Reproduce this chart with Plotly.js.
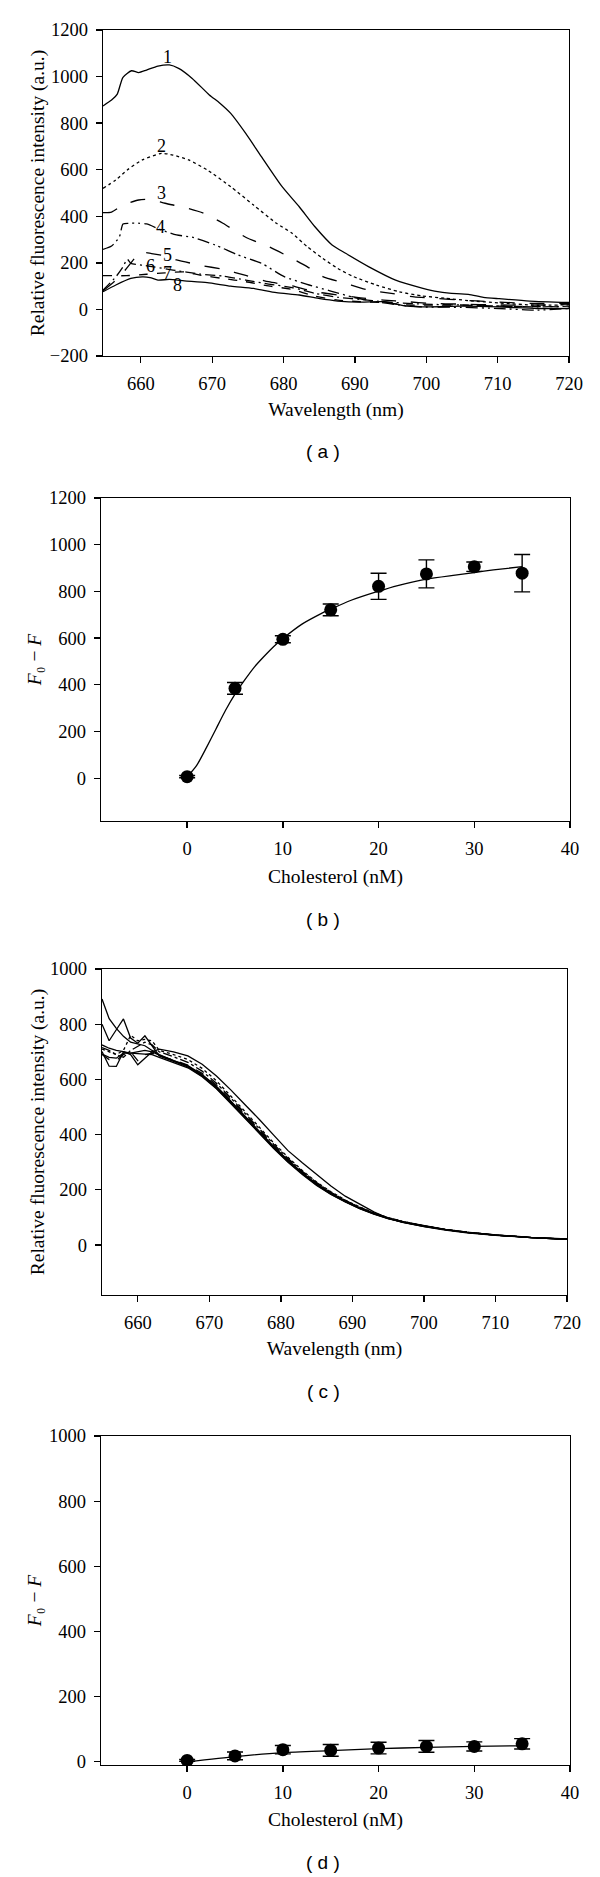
<!DOCTYPE html>
<html>
<head>
<meta charset="utf-8">
<script src="https://cdn.plot.ly/plotly-3.0.1.min.js"></script>
<style>
  html, body { margin: 0; padding: 0; background: #fff; }
  #chart { width: 600px; height: 1877px; }
</style>
</head>
<body>
<div id="chart"></div>
<script>
// ---------------- Panel (a): emission spectra, 8 curves ----------------
const a1x = [654.7, 655.9, 656.7, 657.5, 658.7, 659.7, 660.8, 662.4, 664.0, 665.3, 667.2, 669.6, 671.0, 672.6, 674.7, 676.9, 679.8, 682.2, 684.4, 686.8, 688.7, 691.9, 695.7, 699.4, 701.6, 703.2, 705.9, 708.0, 710.2, 714.5, 720];
const a1y = [874, 899, 925, 997, 1025, 1017, 1028, 1045, 1050, 1035, 992, 921, 888, 842, 756, 656, 527, 441, 355, 277, 241, 184, 126, 92, 76, 70, 65, 52, 46, 36, 30];

const a2x = [654.7, 656.5, 658.1, 660.2, 662.9, 664.5, 666.7, 669.3, 672.6, 675.8, 679.0, 681.2, 683.3, 685.5, 687.6, 689.8, 693.0, 696.2, 699.4, 702.6, 705.9, 710.2, 715.5, 720];
const a2y = [520, 556, 599, 642, 670, 663, 642, 599, 527, 448, 370, 327, 270, 219, 176, 141, 105, 76, 58, 48, 38, 28, 18, 20];

const a3x = [654.7, 655.9, 657.5, 659.7, 661.3, 663.4, 666.1, 668.8, 671.5, 674.7, 677.9, 681.2, 683.3, 685.5, 688.7, 691.9, 695.1, 698.3, 701.6, 704.8, 709.1, 714.5, 720];
const a3y = [416, 418, 448, 470, 473, 456, 438, 413, 370, 310, 270, 219, 184, 141, 112, 83, 69, 54, 47, 40, 33, 26, 26];

const a4x = [654.7, 655.9, 657.0, 657.5, 658.3, 659.7, 660.8, 662.9, 665.0, 667.2, 670.4, 673.6, 676.9, 680.1, 683.3, 686.5, 689.8, 693.0, 696.2, 699.4, 704.8, 710.2, 715.5, 720];
const a4y = [258, 272, 312, 367, 370, 370, 367, 341, 320, 310, 277, 234, 198, 141, 108, 80, 52, 33, 19, 11, 9, 4, -3, 4];

const a5x = [654.7, 657.0, 659.0, 659.8, 661.5, 663.0, 665.0, 668.3, 671.5, 674.7, 677.9, 681.2, 684.4, 687.6, 690.8, 694.0, 697.3, 700.5, 704.8, 710.2, 715.5, 720];
const a5y = [80, 140, 215, 245, 240, 232, 213, 190, 172, 146, 119, 101, 76, 62, 50, 40, 33, 26, 23, 19, 19, 23];

const a6x = [654.7, 656.5, 657.5, 658.1, 658.6, 660.2, 661.8, 664.5, 668.3, 671.5, 674.7, 677.9, 681.2, 684.4, 687.6, 690.8, 694.0, 699.4, 704.8, 710.2, 715.5, 720];
const a6y = [83, 140, 183, 215, 198, 190, 183, 169, 152, 143, 126, 109, 94, 69, 52, 43, 33, 23, 19, 14, 11, 14];

const a7x = [654.7, 658.0, 660.8, 663.4, 666.1, 668.3, 671.5, 674.7, 677.9, 681.2, 684.4, 687.6, 690.8, 694.0, 697.3, 704.8, 710.2, 720];
const a7y = [145, 145, 151, 157, 161, 147, 133, 119, 101, 86, 57, 40, 33, 30, 19, 19, 14, 11];

const a8x = [654.7, 656.5, 658.6, 660.2, 661.3, 662.4, 664.0, 666.1, 669.3, 672.6, 675.8, 679.0, 682.2, 684.9, 687.6, 690.8, 694.0, 697.3, 700.5, 704.8, 710.2, 715.5, 720];
const a8y = [76, 105, 133, 140, 137, 126, 129, 123, 115, 100, 90, 72, 62, 47, 36, 31, 33, 14, 11, 14, 11, 4, 4];

const aLabelText = ["1", "2", "3", "4", "5", "6", "7", "8"];
const aLabelX = [663.8, 662.9, 662.9, 662.8, 663.8, 661.4, 663.8, 665.2];
const aLabelY = [1085, 703, 499, 353, 234, 188, 155, 105];

// ---------------- Panel (b): F0 - F vs cholesterol ----------------
const bX = [0, 5, 10, 15, 20, 25, 30, 35];
const bY = [7, 385, 595, 721, 822, 875, 906, 878];
const bErr = [5, 25, 15, 25, 56, 60, 20, 80];
const bFitX = [0, 1, 2, 3, 4, 5, 6, 7, 8, 9, 10, 12, 14, 15, 17, 20, 22, 25, 28, 30, 32, 35];
const bFitY = [5, 55, 130, 210, 290, 360, 420, 475, 520, 562, 598, 660, 705, 724, 760, 801, 825, 853, 870, 881, 892, 906];

// ---------------- Panel (c): spectra (control), 8 curves ----------------
const cX = [655, 656, 657, 658, 659, 660, 661, 662, 663, 665, 667, 669, 671, 673, 675, 677, 679, 681, 683, 685, 687, 689, 691, 693, 695, 697, 700, 703, 706, 710, 715, 720];
const c1 = [725, 713, 705, 701, 690, 653, 677, 700, 710, 700, 685, 655, 612, 562, 508, 455, 398, 342, 298, 255, 214, 177, 147, 120, 97, 82, 67, 54, 44, 35, 27, 21];
const c2 = [891, 820, 785, 756, 735, 728, 722, 705, 690, 668, 650, 618, 575, 522, 466, 410, 357, 308, 262, 222, 188, 160, 135, 115, 98, 85, 70, 57, 47, 37, 28, 22];
const c3 = [800, 740, 780, 819, 750, 731, 758, 720, 685, 665, 645, 612, 568, 515, 460, 405, 352, 302, 258, 218, 184, 157, 133, 113, 96, 83, 68, 56, 46, 36, 27, 21];
const c4 = [701, 648, 647, 700, 695, 700, 705, 700, 688, 668, 648, 615, 572, 519, 463, 407, 354, 305, 260, 220, 186, 158, 134, 114, 97, 84, 69, 56, 46, 36, 27, 21];
const c5 = [692, 680, 677, 695, 695, 694, 692, 690, 680, 662, 642, 610, 566, 513, 458, 402, 350, 300, 256, 216, 183, 156, 132, 112, 96, 83, 68, 56, 46, 36, 27, 21];
const c6 = [710, 700, 690, 705, 760, 740, 745, 740, 705, 690, 672, 640, 595, 540, 483, 425, 370, 318, 270, 228, 193, 163, 138, 117, 99, 86, 70, 57, 47, 37, 27, 21];
const c7 = [690, 672, 668, 690, 700, 668, 690, 695, 685, 670, 652, 622, 580, 528, 472, 415, 361, 311, 265, 224, 190, 160, 136, 115, 98, 85, 69, 56, 46, 36, 27, 21];
const c8 = [715, 705, 690, 680, 705, 720, 735, 725, 700, 682, 662, 630, 586, 533, 477, 420, 365, 314, 267, 226, 191, 162, 137, 116, 99, 85, 69, 56, 46, 36, 27, 21];

// ---------------- Panel (d): F0 - F vs cholesterol (control) ----------------
const dX = [0, 5, 10, 15, 20, 25, 30, 35];
const dY = [4, 18, 37, 35, 42, 47, 47, 55];
const dErr = [3, 12, 13, 18, 18, 18, 14, 16];
const dFitX = [0, 5, 10, 15, 20, 25, 30, 35];
const dFitY = [0, 16, 28, 34, 40, 44, 47, 49];

// ---------------- Layout geometry (pixels in a 600 x 1877 page) ----------------
const W = 600, H = 1877;
const px = (a, b) => [a / W, b / W];
const py = (top, bottom) => [1 - bottom / H, 1 - top / H];

const SERIF = "Liberation Serif, 'Times New Roman', Times, serif";
const SANS = "Liberation Sans, Arial, sans-serif";

function axisBase(extra) {
  return Object.assign({
    showline: true, linecolor: "black", linewidth: 1.3, mirror: true,
    ticks: "outside", ticklen: 6, tickwidth: 1.3, tickcolor: "black",
    showgrid: false, zeroline: false,
    tickfont: { family: SERIF, size: 18.5, color: "black" },
    ticklabelstandoff: 4,
    fixedrange: true
  }, extra);
}

const lineBlack = (dash) => ({ color: "black", width: 1.3, dash: dash, shape: "spline", smoothing: 0.6 });

const traces = [];
const aSeries = [
  [a1x, a1y, "solid"], [a2x, a2y, "dot"], [a3x, a3y, "longdash"], [a4x, a4y, "12px,4px,2px,4px,2px,4px"],
  [a5x, a5y, "longdash"], [a6x, a6y, "10px,4px,2px,4px"], [a7x, a7y, "dash"], [a8x, a8y, "solid"]
];
aSeries.forEach(s => traces.push({ x: s[0], y: s[1], type: "scatter", mode: "lines", line: lineBlack(s[2]), xaxis: "x", yaxis: "y", hoverinfo: "skip" }));

traces.push({ x: bFitX, y: bFitY, type: "scatter", mode: "lines", line: lineBlack("solid"), xaxis: "x2", yaxis: "y2", hoverinfo: "skip" });
traces.push({
  x: bX, y: bY, type: "scatter", mode: "markers",
  marker: { color: "black", size: 13 },
  error_y: { type: "data", array: bErr, visible: true, color: "black", thickness: 1.4, width: 8 },
  xaxis: "x2", yaxis: "y2", hoverinfo: "skip"
});

const cSeries = [[c1, "solid"], [c2, "solid"], [c3, "solid"], [c4, "solid"], [c5, "solid"], [c6, "dot"], [c7, "dash"], [c8, "dashdot"]];
cSeries.forEach(s => traces.push({ x: cX, y: s[0], type: "scatter", mode: "lines", line: { color: "black", width: 1.3, dash: s[1] }, xaxis: "x3", yaxis: "y3", hoverinfo: "skip" }));

traces.push({ x: dFitX, y: dFitY, type: "scatter", mode: "lines", line: lineBlack("solid"), xaxis: "x4", yaxis: "y4", hoverinfo: "skip" });
traces.push({
  x: dX, y: dY, type: "scatter", mode: "markers",
  marker: { color: "black", size: 13 },
  error_y: { type: "data", array: dErr, visible: true, color: "black", thickness: 1.4, width: 8 },
  xaxis: "x4", yaxis: "y4", hoverinfo: "skip"
});

const titleFont = { family: SERIF, size: 19.5, color: "black" };
const fluoTitle = "Relative fluorescence intensity (a.u.)";
const fTitle = "<i>F</i>₀ − <i>F</i>";

const annotations = [];
aLabelText.forEach((t, i) => annotations.push({
  x: aLabelX[i], y: aLabelY[i], xref: "x", yref: "y", text: t, showarrow: false,
  font: { family: SERIF, size: 18, color: "black" }
}));
const panelLabels = [["( a )", 451], ["( b )", 920], ["( c )", 1391], ["( d )", 1862]];
panelLabels.forEach(p => annotations.push({
  x: 323 / W, y: 1 - p[1] / H, xref: "paper", yref: "paper", text: p[0], showarrow: false,
  font: { family: SANS, size: 19, color: "black" }, xanchor: "center", yanchor: "middle"
}));

const layout = {
  width: W, height: H,
  margin: { l: 0, r: 0, t: 0, b: 0 },
  paper_bgcolor: "white", plot_bgcolor: "white",
  showlegend: false,
  font: { family: SERIF, size: 18, color: "black" },
  xaxis: axisBase({ domain: px(103, 569), anchor: "y", range: [654.7, 720], tickvals: [660, 670, 680, 690, 700, 710, 720], title: { text: "Wavelength (nm)", font: titleFont, standoff: 9 } }),
  yaxis: axisBase({ domain: py(30, 356), anchor: "x", range: [-200, 1200], tickvals: [-200, 0, 200, 400, 600, 800, 1000, 1200], title: { text: fluoTitle, font: titleFont, standoff: 0 } }),
  xaxis2: axisBase({ domain: px(101, 570), anchor: "y2", range: [-9, 40], tickvals: [0, 10, 20, 30, 40], title: { text: "Cholesterol (nM)", font: titleFont, standoff: 11 } }),
  yaxis2: axisBase({ domain: py(498, 821), anchor: "x2", range: [-183, 1200], tickvals: [0, 200, 400, 600, 800, 1000, 1200], title: { text: fTitle, font: titleFont, standoff: 2 } }),
  xaxis3: axisBase({ domain: px(102, 567), anchor: "y3", range: [655, 720], tickvals: [660, 670, 680, 690, 700, 710, 720], title: { text: "Wavelength (nm)", font: titleFont, standoff: 9 } }),
  yaxis3: axisBase({ domain: py(969, 1295), anchor: "x3", range: [-181, 1000], tickvals: [0, 200, 400, 600, 800, 1000], title: { text: fluoTitle, font: titleFont, standoff: 0 } }),
  xaxis4: axisBase({ domain: px(101, 570), anchor: "y4", range: [-9, 40], tickvals: [0, 10, 20, 30, 40], title: { text: "Cholesterol (nM)", font: titleFont, standoff: 10 } }),
  yaxis4: axisBase({ domain: py(1436, 1765), anchor: "x4", range: [-10, 1000], tickvals: [0, 200, 400, 600, 800, 1000], title: { text: fTitle, font: titleFont, standoff: 2 } }),
  annotations: annotations
};

Plotly.newPlot("chart", traces, layout, { staticPlot: true, displayModeBar: false });
</script>
</body>
</html>
